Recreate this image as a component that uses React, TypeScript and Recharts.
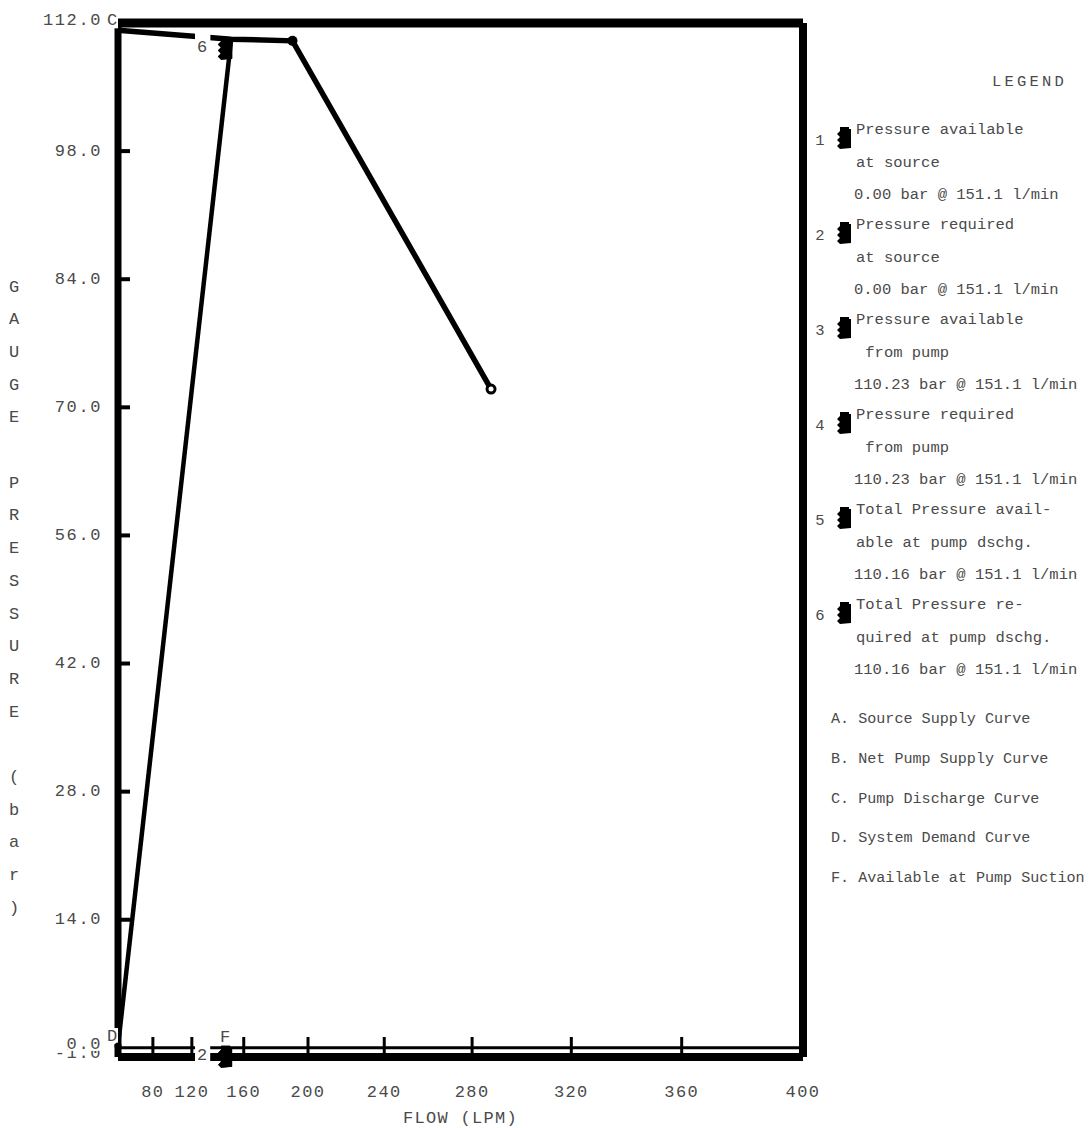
import { ComposedChart, Line, Scatter, XAxis, YAxis, ReferenceLine } from 'recharts'

// flow axis is drawn on hydraulic paper: position grows with Q^1.85
const EXP = 1.85
const toX = (q: number) => Math.pow(q, EXP)
const fromX = (v: number) => Math.round(Math.pow(v, 1 / EXP))

const xTicks = [80, 120, 160, 200, 240, 280, 320, 360, 400]
const yTicks = [-1, 0, 14, 28, 42, 56, 70, 84, 98, 112]

// C. pump discharge curve
const pumpFlow = [0, 151.1, 191, 288]
const pumpPress = [111.2, 110.23, 110.05, 72.0]
// D. system demand curve
const demandFlow = [0, 151.1]
const demandPress = [0.2, 110.16]

// numbered points 1..6
const pointIds = ['1', '2', '3', '4', '5', '6']
const pointFlow = [151.1, 151.1, 151.1, 151.1, 151.1, 151.1]
const pointPress = [0.0, 0.0, 110.23, 110.23, 110.16, 110.16]

// curve letters drawn on the plot
const tagNames = ['C', 'D', 'F']
const tagFlow = [0, 0, 151.1]
const tagPress = [111.2, 0.2, 0.0]

const legendTitle = ['Pressure available', 'Pressure required', 'Pressure available', 'Pressure required', 'Total Pressure avail-', 'Total Pressure re-']
const legendSub = ['at source', 'at source', ' from pump', ' from pump', 'able at pump dschg.', 'quired at pump dschg.']
const legendValue = ['0.00 bar @ 151.1 l/min', '0.00 bar @ 151.1 l/min', '110.23 bar @ 151.1 l/min', '110.23 bar @ 151.1 l/min', '110.16 bar @ 151.1 l/min', '110.16 bar @ 151.1 l/min']
const curveKeys = ['A. Source Supply Curve', 'B. Net Pump Supply Curve', 'C. Pump Discharge Curve', 'D. System Demand Curve', 'F. Available at Pump Suction']

const yTitle = 'GAUGE PRESSURE (bar)'

const pumpData = pumpFlow.map((q, i) => ({ x: toX(q), y: pumpPress[i] }))
const demandData = demandFlow.map((q, i) => ({ x: toX(q), y: demandPress[i] }))
const pointData = pointIds.map((id, i) => ({ x: toX(pointFlow[i]), y: pointPress[i], id }))
const tagData = tagNames.map((t, i) => ({ x: toX(tagFlow[i]), y: tagPress[i], t }))

const FONT = "'Liberation Mono', 'Courier New', monospace"
const TXT = '#4a4a4a'

const markerPath = (x: number, y: number) =>
  `M${x + 4},${y} L${x + 13},${y} L${x + 13},${y + 2} L${x + 15},${y + 2} L${x + 15},${y + 21} L${x + 4},${y + 22} ` +
  `L${x + 1},${y + 19} L${x + 4},${y + 16} L${x + 1},${y + 13} L${x + 4},${y + 10} L${x + 1},${y + 7} L${x + 4},${y + 4} Z`

const yLabelShift = (v: number) => (v === 112 ? -3 : v === 0 ? -3 : v === -1 ? -4 : 0)

function YTick({ x, y, payload }: any) {
  const v = payload.value
  return (
    <g>
      {v === 0 && <rect x={x - 50} y={y - 14} width={34} height={17} fill="#fff" />}
      <text x={x - 16} y={y + yLabelShift(v)} textAnchor="end" dominantBaseline="central" fontFamily={FONT} fontSize={17} letterSpacing={1.6} fill={TXT}>
        {v.toFixed(1)}
      </text>
      {v > 0 && v < 112 && <line x1={x} x2={x + 12} y1={y} y2={y} stroke="#000" strokeWidth={4} />}
    </g>
  )
}

function XTick({ x, y, payload }: any) {
  const q = fromX(payload.value)
  return (
    <g>
      {q < 400 && <line x1={x} x2={x} y1={y - 20} y2={y - 1} stroke="#000" strokeWidth={3} />}
      <text x={x} y={y + 35} textAnchor="middle" dominantBaseline="central" fontFamily={FONT} fontSize={17} letterSpacing={1.4} fill={TXT}>
        {q}
      </text>
    </g>
  )
}

function PointMark({ cx, cy, payload }: any) {
  return (
    <g>
      <rect x={cx - 36} y={cy - 9} width={15} height={27} fill="#fff" />
      <text x={cx - 29} y={cy + 8} textAnchor="middle" dominantBaseline="central" fontFamily={FONT} fontSize={17} fill={TXT}>
        {payload.id}
      </text>
      <path d={markerPath(cx - 14, cy - 2)} fill="#000" />
    </g>
  )
}

function TagMark({ cx, cy, payload }: any) {
  return (
    <g>
      <rect x={cx - 13} y={cy - 18} width={13} height={16} fill="#fff" />
      <text x={cx - 6} y={cy - 10} textAnchor="middle" dominantBaseline="central" fontFamily={FONT} fontSize={17} fill={TXT}>
        {payload.t}
      </text>
    </g>
  )
}

function pumpDot(p: any) {
  if (p.index === 2) return <circle key={p.index} cx={p.cx} cy={p.cy} r={5} fill="#000" />
  if (p.index === 3) return <circle key={p.index} cx={p.cx} cy={p.cy} r={4} fill="#fff" stroke="#000" strokeWidth={3} />
  return <g key={p.index} />
}

function demandDot(p: any) {
  if (p.index === 0) return <circle key={p.index} cx={p.cx} cy={p.cy} r={3.5} fill="#000" />
  return <g key={p.index} />
}

function YTitle({ viewBox }: any) {
  const x = viewBox.x + 6
  return (
    <g>
      {yTitle.split('').map((c, i) => (
        <text key={i} x={x} y={287 + i * 32.7} textAnchor="middle" dominantBaseline="central" fontFamily={FONT} fontSize={17} fill={TXT}>
          {c}
        </text>
      ))}
    </g>
  )
}

function XTitle({ viewBox }: any) {
  return (
    <text x={viewBox.x + viewBox.width / 2} y={viewBox.y + 61} textAnchor="middle" dominantBaseline="central" fontFamily={FONT} fontSize={17} letterSpacing={1.3} fill={TXT}>
      FLOW (LPM)
    </text>
  )
}

function LegendPanel() {
  const t = { fontFamily: FONT, fontSize: 15.5, fill: TXT, dominantBaseline: 'central' as const, style: { whiteSpace: 'pre' as const } }
  return (
    <svg width={1090} height={1128} style={{ position: 'absolute', left: 0, top: 0, pointerEvents: 'none' }}>
      <text x={992} y={82} {...t} letterSpacing={3.2}>LEGEND</text>
      {pointIds.map((id, i) => {
        const y0 = 130 + i * 95
        return (
          <g key={id}>
            <text x={820} y={y0 + 11} textAnchor="middle" {...t}>{id}</text>
            <path d={markerPath(836, y0 - 3)} fill="#000" />
            <text x={856} y={y0} {...t}>{legendTitle[i]}</text>
            <text x={856} y={y0 + 32.5} {...t}>{legendSub[i]}</text>
            <text x={854} y={y0 + 65} {...t}>{legendValue[i]}</text>
          </g>
        )
      })}
      {curveKeys.map((k, i) => (
        <text key={k} x={831} y={719 + i * 39.8} {...t} fontSize={15.1}>{k}</text>
      ))}
    </svg>
  )
}

export default function App() {
  return (
    <div style={{ position: 'absolute', left: 0, top: 0, width: 1090, height: 1128, background: '#fff' }}>
      <ComposedChart width={1090} height={1128} margin={{ top: 23, right: 287, bottom: 11, left: 8 }}>
        <XAxis
          type="number"
          dataKey="x"
          domain={[0, toX(400)]}
          ticks={xTicks.map(toX)}
          interval={0}
          axisLine={false}
          tickLine={false}
          tickSize={0}
          tickMargin={0}
          height={60}
          tick={<XTick />}
          label={<XTitle />}
        />
        <YAxis
          type="number"
          dataKey="y"
          domain={[-1, 112]}
          ticks={yTicks}
          interval={0}
          axisLine={false}
          tickLine={false}
          tickSize={0}
          tickMargin={0}
          width={110}
          tick={<YTick />}
          label={<YTitle />}
        />
        <ReferenceLine y={0} stroke="#000" strokeWidth={3} />
        <ReferenceLine y={-1} stroke="#000" strokeWidth={8} />
        <ReferenceLine y={112} stroke="#000" strokeWidth={9} />
        <ReferenceLine x={0} stroke="#000" strokeWidth={7} />
        <ReferenceLine x={toX(400)} stroke="#000" strokeWidth={8} />
        <Scatter data={tagData} shape={<TagMark />} isAnimationActive={false} />
        <Line data={pumpData} dataKey="y" type="linear" stroke="#000" strokeWidth={5.5} dot={pumpDot} activeDot={false} isAnimationActive={false} />
        <Line data={demandData} dataKey="y" type="linear" stroke="#000" strokeWidth={4.5} dot={demandDot} activeDot={false} isAnimationActive={false} />
        <Scatter data={pointData} shape={<PointMark />} isAnimationActive={false} />
      </ComposedChart>
      <LegendPanel />
    </div>
  )
}
